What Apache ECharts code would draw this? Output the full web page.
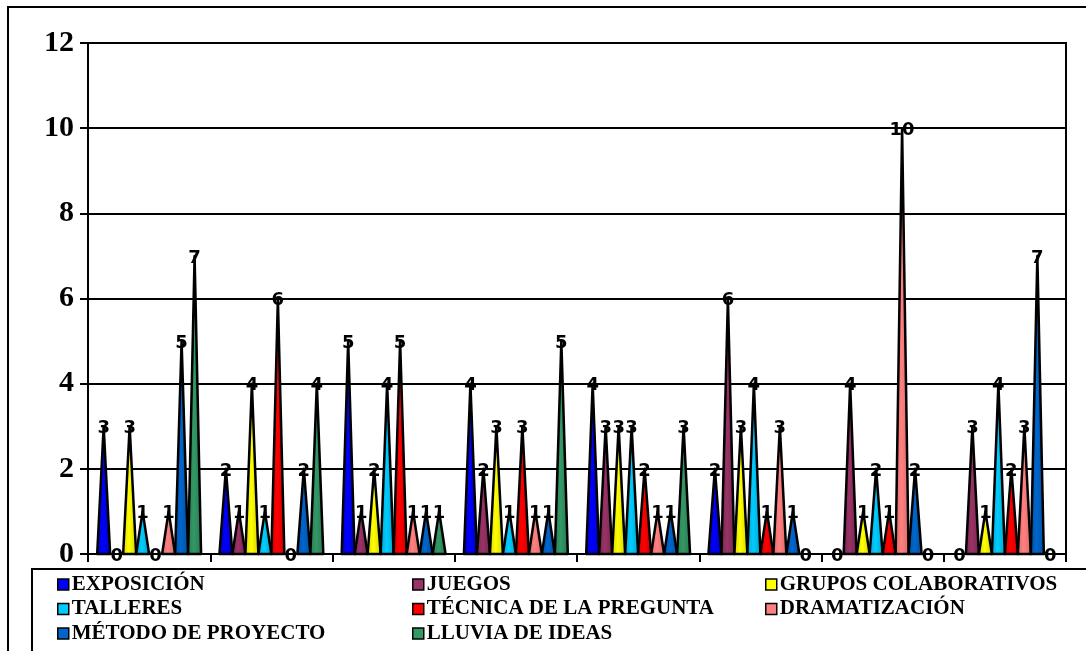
<!DOCTYPE html>
<html>
<head>
<meta charset="utf-8">
<script src="https://cdn.jsdelivr.net/npm/echarts@6/dist/echarts.min.js"></script>
<style>html,body{margin:0;padding:0;background:#fff;}#c{width:1086px;height:651px;}</style>
</head>
<body>
<div id="c"></div>
<script>
const categories = ['G1','G2','G3','G4','G5','G6','G7','G8'];
const seriesNames = ['EXPOSICIÓN','JUEGOS','GRUPOS COLABORATIVOS','TALLERES','TÉCNICA DE LA PREGUNTA','DRAMATIZACIÓN','MÉTODO DE PROYECTO','LLUVIA DE IDEAS'];
const exposicion    = [3,2,5,4,4,2,0,0];
const juegos        = [0,1,1,2,3,6,4,3];
const grupos        = [3,4,2,3,3,3,1,1];
const talleres      = [1,1,4,1,3,4,2,4];
const tecnica       = [0,6,5,3,2,1,1,2];
const dramatizacion = [1,0,1,1,1,3,10,3];
const metodo        = [5,2,1,1,1,1,2,7];
const lluvia        = [7,4,1,5,3,0,0,0];
const yTicks = [0,2,4,6,8,10,12];

const seriesData = [exposicion,juegos,grupos,talleres,tecnica,dramatizacion,metodo,lluvia];
const colors = ['#0000FF','#993366','#FFFF00','#00CCFF','#FF0000','#FF8080','#0066CC','#339966'];
const darks  = ['#0000B8','#74254D','#D0D000','#00A0C8','#C80000','#D86868','#004E9E','#277550'];
const N = seriesNames.length;
const BAND_FILL = 0.85;

function grad(i){
  return new echarts.graphic.LinearGradient(0,0,1,0,[
    {offset:0,color:darks[i]},{offset:0.45,color:colors[i]},{offset:1,color:darks[i]}
  ]);
}

function geom(api, idx, v, i){
  const base = api.coord([idx,0]);
  const top = api.coord([idx,v]);
  const w = api.size([1,0])[0]*BAND_FILL/N;
  const cx = base[0] + (i-(N-1)/2)*w;
  return {cx, w, y0: base[1], y1: top[1]};
}

const chart = echarts.init(document.getElementById('c'));
const series = seriesNames.map((name,i)=>({
  name: name,
  type: 'custom',
  coordinateSystem: 'cartesian2d',
  itemStyle: {color: colors[i]},
  encode: {x:0, y:1},
  data: seriesData[i].map((v,k)=>[k,v]),
  z: 3,
  renderItem: function(params, api){
    const idx = api.value(0), v = api.value(1);
    if (!(v > 0)) return {type:'group', children:[]};
    const g = geom(api, idx, v, i);
    return {type:'polygon',
      shape:{points:[[g.cx-g.w/2,g.y0],[g.cx,g.y1],[g.cx+g.w/2,g.y0]]},
      style:{fill:grad(i), stroke:'#000', lineWidth:2.5, lineJoin:'round'}};
  }
}));

// labels drawn on top of all cones
const labelData = [];
seriesData.forEach((arr,i)=>arr.forEach((v,k)=>labelData.push([k,v,i])));
series.push({
  type:'custom', coordinateSystem:'cartesian2d', z:10, silent:true,
  encode:{x:0,y:1}, data:labelData,
  renderItem: function(params, api){
    const idx = api.value(0), v = api.value(1), i = api.value(2);
    const g = geom(api, idx, v, i);
    return {type:'text', x:g.cx, y:g.y1+2,
      style:{text:String(v), fill:'#000', font:'bold 18px "DejaVu Sans"', align:'center', verticalAlign:'middle'}};
  }
});

const legendText = {fontFamily:'Liberation Serif', fontWeight:'bold', fontSize:21, color:'#000', lineHeight:20, padding:[0,0,0,-2]};
function legendCol(left, names){
  return {orient:'vertical', left:left, top:574, itemWidth:11, itemHeight:11, itemGap:3.5,
          icon:'rect', itemStyle:{borderColor:'#000',borderWidth:1.5},
          textStyle:legendText, selectedMode:false, data:names, padding:0};
}

chart.setOption({
  animation:false,
  backgroundColor:'#fff',
  color: colors,
  grid:{left:88,right:20,top:43,bottom:97,show:true,borderColor:'#000',borderWidth:2,backgroundColor:'transparent'},
  xAxis:{type:'category',data:categories,boundaryGap:true,
    axisLine:{show:true,lineStyle:{color:'#000',width:2}},
    axisTick:{show:true,length:8,interval:0,lineStyle:{color:'#000',width:2}},
    axisLabel:{show:false},splitLine:{show:false}},
  yAxis:{type:'value',min:0,max:12,interval:2,
    axisLine:{show:true,lineStyle:{color:'#000',width:2}},
    axisTick:{show:true,length:8,lineStyle:{color:'#000',width:2}},
    axisLabel:{color:'#000',fontFamily:'Liberation Serif',fontWeight:'bold',fontSize:30,margin:14,
      formatter:v=>yTicks.includes(v)?String(v):''},
    splitLine:{show:true,lineStyle:{color:'#000',width:2}}},
  legend:[
    legendCol(57,[seriesNames[0],seriesNames[3],seriesNames[6]]),
    legendCol(412,[seriesNames[1],seriesNames[4],seriesNames[7]]),
    legendCol(765,[seriesNames[2],seriesNames[5]])
  ],
  graphic:[
    {type:'rect',shape:{x:8,y:7,width:1200,height:800},style:{fill:'none',stroke:'#000',lineWidth:2},z:-1,silent:true},
    {type:'rect',shape:{x:32,y:569,width:1200,height:200},style:{fill:'none',stroke:'#000',lineWidth:2},z:-1,silent:true}
  ],
  series: series
});
</script>
</body>
</html>
